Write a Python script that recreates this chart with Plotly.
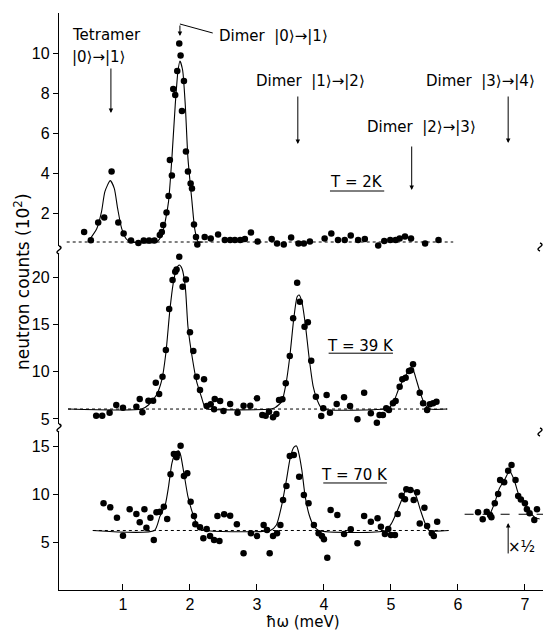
import plotly.graph_objects as go

# ---------------- data ----------------
# T = 2 K panel (units of 10^2 counts)
p1_x = [0.42, 0.52, 0.63, 0.72, 0.83, 0.93, 1.01, 1.12, 1.23, 1.31, 1.39, 1.47, 1.55, 1.58, 1.60,
        1.65, 1.68, 1.70, 1.73, 1.75, 1.78, 1.81, 1.84, 1.86, 1.88, 1.91, 1.94, 1.97, 2.01, 2.03,
        2.06, 2.09, 2.11, 2.22, 2.31, 2.42, 2.52, 2.60, 2.67, 2.75, 2.82, 2.91, 3.01, 3.12, 3.22,
        3.30, 3.40, 3.51, 3.62, 3.70, 3.79, 3.91, 4.01, 4.11, 4.21, 4.31, 4.40, 4.51, 4.61, 4.71,
        4.81, 4.90, 4.99, 5.07, 5.13, 5.21, 5.30, 5.40, 5.51, 5.71]
p1_y = [1.05, 0.64, 1.52, 1.77, 4.07, 1.53, 0.98, 0.62, 0.50, 0.62, 0.62, 0.62, 0.90, 1.05, 1.40,
        2.02, 2.85, 4.65, 3.87, 8.20, 7.90, 9.10, 10.48, 9.87, 7.10, 8.60, 5.07, 4.07, 3.48, 3.23,
        1.43, 0.80, 0.43, 0.80, 0.72, 0.92, 0.65, 0.65, 0.65, 0.65, 0.70, 1.03, 0.57, 0.18, 0.70,
        0.48, 0.43, 0.77, 0.48, 0.48, 0.57, 0.32, 0.73, 0.98, 0.65, 0.65, 0.87, 0.65, 0.70, 0.20,
        0.37, 0.60, 0.65, 0.65, 0.73, 0.82, 0.73, 0.27, 0.48, 0.65]
p1_fit_x = [0.48, 0.61, 0.68, 0.73, 0.81, 0.87, 0.92, 0.98, 1.05, 1.12, 1.50, 1.58, 1.63, 1.68,
            1.73, 1.78, 1.82, 1.85, 1.89, 1.93, 1.97, 2.03, 2.07, 2.12, 2.20]
p1_fit_y = [0.57, 1.23, 2.07, 3.07, 3.62, 3.23, 2.23, 1.23, 0.70, 0.55, 0.55, 0.90, 1.57, 2.57,
            4.73, 7.40, 9.07, 9.60, 9.15, 7.40, 4.73, 2.57, 1.23, 0.57, 0.55]
p1_base = 0.55
p1_base_x = [0.16, 5.93]

# T = 39 K panel
p2_x = [0.60, 0.69, 0.80, 0.90, 1.00, 1.10, 1.20, 1.25, 1.29, 1.38, 1.45, 1.49, 1.54, 1.59, 1.64,
        1.69, 1.74, 1.78, 1.80, 1.84, 1.89, 1.94, 2.00, 2.05, 2.10, 2.15, 2.21, 2.25, 2.31, 2.36,
        2.37, 2.45, 2.50, 2.60, 2.71, 2.80, 2.90, 3.00, 3.08, 3.13, 3.18, 3.24, 3.29, 3.33, 3.38,
        3.43, 3.49, 3.54, 3.60, 3.60, 3.64, 3.71, 3.76, 3.81, 3.88, 3.96, 3.99, 4.04, 4.09, 4.19,
        4.30, 4.39, 4.50, 4.60, 4.70, 4.79, 4.83, 4.88, 4.93, 4.97, 5.03, 5.07, 5.13, 5.17, 5.22,
        5.27, 5.30, 5.33, 5.43, 5.48, 5.54, 5.58, 5.63, 5.68]
p2_y = [5.35, 5.35, 5.67, 6.48, 6.19, 4.44, 6.30, 7.11, 5.71, 6.93, 6.93, 8.83, 7.64, 9.47, 12.29,
        16.62, 19.68, 20.56, 20.80, 22.13, 18.96, 19.74, 14.15, 12.18, 9.47, 8.06, 9.19, 6.37, 6.55, 6.02,
        7.11, 6.90, 5.84, 6.58, 5.67, 6.41, 6.41, 7.18, 5.42, 5.35, 5.77, 5.18, 5.53, 7.00, 7.08,
        8.77, 11.65, 15.63, 19.39, 4.37, 17.39, 14.75, 15.21, 11.15, 7.35, 5.32, 6.13, 7.53, 5.67, 6.58,
        7.29, 6.37, 4.97, 7.78, 5.60, 4.61, 5.42, 5.42, 6.13, 5.95, 6.65, 6.90, 8.41, 9.19, 9.36,
        10.07, 10.14, 10.77, 7.78, 6.65, 5.95, 6.55, 6.65, 6.83]
p2_fit_x = [0.18, 1.28, 1.38, 1.50, 1.58, 1.64, 1.70, 1.75, 1.80, 1.84, 1.88, 1.93, 1.97, 2.04,
            2.10, 2.17, 2.22, 2.27, 3.20, 3.27, 3.37, 3.43, 3.49, 3.55, 3.60, 3.63, 3.67, 3.72,
            3.78, 3.84, 3.92, 3.98, 4.90, 4.96, 5.03, 5.12, 5.21, 5.28, 5.33, 5.38, 5.44, 5.51,
            5.58, 5.84]
p2_fit_y = [6.05, 6.05, 6.48, 7.53, 9.12, 11.94, 16.50, 19.33, 20.90, 21.26, 20.90, 18.97, 14.75,
            11.23, 8.94, 7.35, 6.30, 6.05, 6.05, 6.20, 6.83, 8.59, 11.58, 15.63, 17.92, 18.10, 17.39,
            15.10, 11.40, 8.41, 6.65, 6.05, 6.05, 6.15, 6.65, 8.24, 9.47, 10.17, 10.17, 9.12, 7.71,
            6.48, 6.05, 6.05]
p2_base = 6.05
p2_base_x = [0.18, 5.84]

# T = 70 K panel
p3_x = [0.71, 0.81, 0.91, 1.00, 1.10, 1.20, 1.25, 1.32, 1.35, 1.41, 1.46, 1.50, 1.55, 1.61, 1.66,
        1.71, 1.76, 1.80, 1.81, 1.86, 1.91, 1.96, 2.01, 2.06, 2.08, 2.15, 2.20, 2.25, 2.30, 2.36,
        2.41, 2.44, 2.51, 2.60, 2.70, 2.80, 2.91, 3.00, 3.10, 3.15, 3.19, 3.24, 3.30, 3.35, 3.39,
        3.44, 3.49, 3.55, 3.63, 3.70, 3.77, 3.85, 3.92, 3.97, 4.00, 4.05, 4.10, 4.20, 4.30, 4.40,
        4.50, 4.60, 4.70, 4.80, 4.85, 4.91, 4.96, 5.00, 5.06, 5.10, 5.16, 5.21, 5.23, 5.29, 5.34,
        5.39, 5.43, 5.50, 5.54, 5.61, 5.64, 5.69]
p3_y = [9.03, 8.61, 7.53, 5.66, 8.41, 7.92, 7.05, 8.41, 6.49, 7.53, 5.21, 8.09, 8.16, 8.68, 7.40,
        12.05, 14.17, 13.82, 14.17, 15.03, 11.88, 12.15, 9.20, 7.71, 6.84, 6.53, 5.39, 6.35, 5.62, 5.21,
        7.71, 5.10, 7.89, 7.74, 6.84, 3.82, 5.90, 5.62, 6.77, 6.25, 3.82, 5.62, 5.90, 6.77, 9.38,
        10.83, 13.96, 14.06, 11.80, 9.90, 9.03, 6.77, 5.90, 5.62, 5.28, 3.36, 8.33, 7.81, 5.83, 6.32,
        4.86, 7.71, 7.11, 7.47, 6.60, 5.83, 6.35, 5.73, 5.73, 7.92, 9.82, 9.45, 10.49, 10.42, 9.38,
        10.18, 6.94, 8.57, 6.67, 5.90, 5.62, 7.11]
p3_fit_x = [0.55, 1.47, 1.55, 1.63, 1.68, 1.73, 1.78, 1.83, 1.86, 1.91, 1.97, 2.04, 2.10, 2.17,
            2.25, 3.20, 3.29, 3.37, 3.44, 3.50, 3.55, 3.59, 3.62, 3.67, 3.72, 3.78, 3.84, 3.92,
            4.92, 5.01, 5.08, 5.16, 5.21, 5.27, 5.33, 5.38, 5.44, 5.51, 5.57, 5.86]
p3_fit_y = [6.20, 6.20, 7.64, 8.85, 10.76, 13.20, 14.24, 14.51, 14.06, 12.15, 9.72, 7.99, 6.95,
            6.43, 6.20, 6.20, 6.77, 8.85, 11.46, 13.89, 14.86, 15.00, 14.40, 12.50, 9.72, 7.81,
            6.77, 6.20, 6.20, 6.95, 7.99, 9.38, 10.24, 10.59, 10.42, 9.72, 8.33, 6.95, 6.20, 6.20]
p3_base = 6.20
p3_base_x = [0.55, 5.86]

# T = 70 K, Dimer |3>->|4> section (scaled x 1/2)
p4_x = [6.30, 6.37, 6.43, 6.48, 6.50, 6.55, 6.60, 6.63, 6.69, 6.75, 6.80, 6.86, 6.90, 6.94, 7.00,
        7.03, 7.07, 7.14, 7.18]
p4_y = [8.09, 7.36, 8.16, 7.81, 7.57, 9.03, 10.00, 11.46, 11.22, 12.43, 13.02, 11.46, 9.79, 9.44,
        9.03, 8.40, 7.99, 7.29, 8.40]
p4_fit_x = [6.48, 6.55, 6.62, 6.70, 6.77, 6.84, 6.90, 6.97, 7.05, 7.15, 7.22]
p4_fit_y = [7.90, 9.10, 10.60, 11.53, 12.40, 11.46, 10.07, 9.20, 8.33, 7.57, 7.40]
p4_base = 7.89
p4_base_x = [6.10, 7.27]

x_ticks = [1, 2, 3, 4, 5, 6, 7]
y1_ticks = [2, 4, 6, 8, 10]
y2_ticks = [5, 10, 15, 20]
y3_ticks = [5, 10, 15]

# ---------------- layout geometry ----------------
W, H = 543, 632
ML, MR, MT, MB = 59, 0, 13, 42
PW, PH = W - ML - MR, H - MT - MB


def ppy(py):
    return (H - MB - py) / PH


def ppx(px):
    return (px - ML) / PW


X_RANGE = [0.045, 7.27]
Y1_RANGE = [0.35, 12.0]
Y2_RANGE = [4.47, 22.43]
Y3_RANGE = [0.0, 16.46]
D1 = [ppy(246), 1.0]
D2 = [ppy(424), ppy(254)]
D3 = [0.0, ppy(432)]

BLACK = "black"
TXT = dict(family="DejaVu Sans", size=15, color=BLACK)

fig = go.Figure()


def add_panel(xs, ys, fx, fy, base, bx, yref, dash="dot"):
    fig.add_trace(go.Scatter(x=bx, y=[base, base], mode="lines", yaxis=yref,
                             line=dict(color=BLACK, width=1, dash=dash), hoverinfo="skip"))
    fig.add_trace(go.Scatter(x=fx, y=fy, mode="lines", yaxis=yref,
                             line=dict(color=BLACK, width=1.1, shape="spline", smoothing=0.6),
                             hoverinfo="skip"))
    fig.add_trace(go.Scatter(x=xs, y=ys, mode="markers", yaxis=yref, cliponaxis=False,
                             marker=dict(color=BLACK, size=6.5)))


add_panel(p1_x, p1_y, p1_fit_x, p1_fit_y, p1_base, p1_base_x, "y")
add_panel(p2_x, p2_y, p2_fit_x, p2_fit_y, p2_base, p2_base_x, "y2")
add_panel(p3_x, p3_y, p3_fit_x, p3_fit_y, p3_base, p3_base_x, "y3")
add_panel(p4_x, p4_y, p4_fit_x, p4_fit_y, p4_base, p4_base_x, "y3", dash="dash")

axis_common = dict(showgrid=False, zeroline=False, showline=True, linecolor=BLACK,
                   linewidth=1.4, tickcolor=BLACK, tickwidth=1.2)
tickfont = dict(family="Liberation Sans", size=16, color=BLACK)

layout = dict(
    width=W, height=H, margin=dict(l=ML, r=MR, t=MT, b=MB),
    plot_bgcolor="white", paper_bgcolor="white", showlegend=False,
    xaxis=dict(domain=[0, 1], range=X_RANGE, anchor="y3", tickvals=x_ticks, ticks="inside",
               ticklen=6, tickfont=tickfont, ticklabelstandoff=0, **axis_common),
    xaxis2=dict(domain=[0, 1], range=X_RANGE, anchor="y", overlaying="x", side="top",
                tickvals=x_ticks, ticks="inside", ticklen=6, showticklabels=False, **axis_common),
    yaxis=dict(domain=D1, range=Y1_RANGE, anchor="x", tickvals=y1_ticks, ticks="outside",
               ticklen=5, tickfont=tickfont, **axis_common),
    yaxis2=dict(domain=D2, range=Y2_RANGE, anchor="x", tickvals=y2_ticks, ticks="outside",
                ticklen=5, tickfont=tickfont, **axis_common),
    yaxis3=dict(domain=D3, range=Y3_RANGE, anchor="x", tickvals=y3_ticks, ticks="outside",
                ticklen=5, tickfont=tickfont, **axis_common),
)
for i, (rng, tv, ov) in enumerate([(Y1_RANGE, y1_ticks, "y"), (Y2_RANGE, y2_ticks, "y2"),
                                   (Y3_RANGE, y3_ticks, "y3")]):
    layout["yaxis%d" % (i + 4)] = dict(range=rng, overlaying=ov, side="right", anchor="x",
                                      tickvals=tv, ticks="inside", ticklen=6, tickcolor=BLACK,
                                      tickwidth=1.2, showticklabels=False, showline=False,
                                      showgrid=False, zeroline=False)
fig.update_layout(**layout)

ann = []


def text(x, y, s, yref="y", xanchor="center", size=15):
    ann.append(dict(x=x, y=y, xref="x", yref=yref, text=s, showarrow=False,
                    xanchor=xanchor, yanchor="middle", font=dict(TXT, size=size)))


def arrow(x, y0, y1, yref="y"):
    ann.append(dict(x=x, y=y1, ax=x, ay=y0, xref="x", yref=yref, axref="x", ayref=yref,
                    text="", showarrow=True, arrowhead=2, arrowsize=0.9, arrowwidth=1,
                    arrowcolor=BLACK))


# top panel labels
text(0.21, 10.9, "Tetramer", xanchor="left")
text(0.21, 9.8, "|0⟩→|1⟩", xanchor="left")
arrow(0.82, 9.3, 7.0)
text(2.40, 10.85, "Dimer  |0⟩→|1⟩", xanchor="left")
arrow(1.85, 11.45, 10.85)
text(3.80, 8.6, "Dimer  |1⟩→|2⟩")
arrow(3.61, 7.9, 5.45)
text(6.33, 8.6, "Dimer  |3⟩→|4⟩")
arrow(6.75, 7.9, 5.5)
text(5.46, 6.3, "Dimer  |2⟩→|3⟩")
arrow(5.31, 5.4, 3.15)
text(4.49, 3.55, "T = 2K")
text(4.55, 12.75, "T = 39 K", yref="y2")
text(4.46, 12.0, "T = 70 K", yref="y3")
arrow(6.75, 3.65, 6.98, yref="y3")
text(6.95, 4.5, "×½", yref="y3")

# axis titles
ann.append(dict(x=3.69, y=ppy(622), xref="x", yref="paper", text="ħω (meV)", showarrow=False,
                xanchor="center", yanchor="middle", font=dict(TXT, size=15)))
ann.append(dict(x=ppx(22), y=ppy(282), xref="paper", yref="paper",
                text="neutron counts (10<sup>2</sup>)", showarrow=False, textangle=-90,
                xanchor="center", yanchor="middle", font=dict(TXT, size=17)))
fig.update_layout(annotations=ann)

shapes = []
line = dict(color=BLACK, width=1)
# underlines of temperature labels and leader line
shapes.append(dict(type="line", xref="x", yref="y", x0=4.09, x1=4.90, y0=3.1, y1=3.1, line=line))
shapes.append(dict(type="line", xref="x", yref="y2", x0=4.07, x1=5.03, y0=11.95, y1=11.95, line=line))
shapes.append(dict(type="line", xref="x", yref="y3", x0=3.99, x1=4.94, y0=11.15, y1=11.15, line=line))
shapes.append(dict(type="line", xref="x", yref="y", x0=2.34, x1=1.85, y0=11.0, y1=11.45, line=line))


# axis breaks (squiggles) on the left and right edges
def squiggle(px, py0, py1):
    xs = [px, px + 4, px - 4, px]
    ys = [py0, py0 + (py1 - py0) * 0.35, py0 + (py1 - py0) * 0.65, py1]
    path = "M %.5f,%.5f C %.5f,%.5f %.5f,%.5f %.5f,%.5f" % (
        ppx(xs[0]), ppy(ys[0]), ppx(xs[1] + 3), ppy(ys[1]), ppx(xs[2] - 3), ppy(ys[2]),
        ppx(xs[3]), ppy(ys[3]))
    return dict(type="path", xref="paper", yref="paper", path=path,
                line=dict(color=BLACK, width=1.4))


shapes.append(squiggle(59, 246, 254))
shapes.append(squiggle(59, 424, 432))
shapes.append(squiggle(540, 243, 251))
shapes.append(squiggle(540, 428, 436))
fig.update_layout(shapes=shapes)

fig.write_html("out.html")
